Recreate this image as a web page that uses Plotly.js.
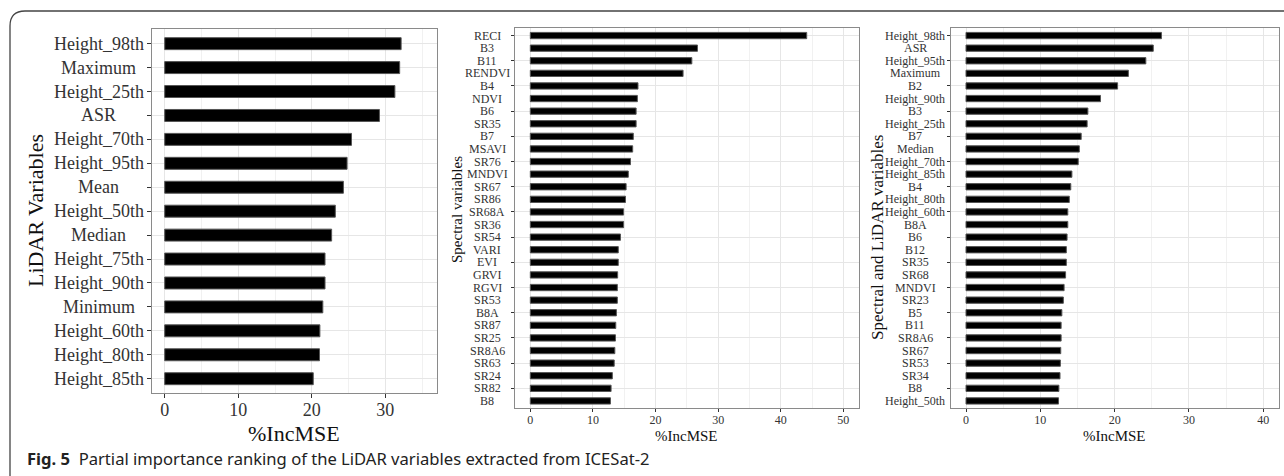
<!DOCTYPE html>
<html>
<head>
<meta charset="utf-8">
<script src="https://cdn.plot.ly/plotly-3.0.1.min.js"></script>
<style>
html,body{margin:0;padding:0;background:#fff;}
#chart{width:1284px;height:476px;}
</style>
</head>
<body>
<div id="chart"></div>
<script>
// ---- data ----
const lidarVars = ["Height_98th","Maximum","Height_25th","ASR","Height_70th","Height_95th","Mean","Height_50th","Median","Height_75th","Height_90th","Minimum","Height_60th","Height_80th","Height_85th"];
const lidarIncMSE = [32.15,31.95,31.3,29.2,25.4,24.8,24.3,23.2,22.7,21.8,21.8,21.5,21.1,21.05,20.2];

const spectralVars = ["RECI","B3","B11","RENDVI","B4","NDVI","B6","SR35","B7","MSAVI","SR76","MNDVI","SR67","SR86","SR68A","SR36","SR54","VARI","EVI","GRVI","RGVI","SR53","B8A","SR87","SR25","SR8A6","SR63","SR24","SR82","B8"];
const spectralIncMSE = [44.15,26.7,25.8,24.4,17.2,17.1,16.9,16.9,16.45,16.35,16.0,15.65,15.3,15.2,14.9,14.9,14.4,14.05,14.05,13.95,13.9,13.9,13.75,13.65,13.6,13.5,13.4,13.1,12.9,12.8];

const combinedVars = ["Height_98th","ASR","Height_95th","Maximum","B2","Height_90th","B3","Height_25th","B7","Median","Height_70th","Height_85th","B4","Height_80th","Height_60th","B8A","B6","B12","SR35","SR68","MNDVI","SR23","B5","B11","SR8A6","SR67","SR53","SR34","B8","Height_50th"];
const combinedIncMSE = [26.3,25.2,24.2,21.85,20.4,18.1,16.4,16.3,15.5,15.25,15.1,14.25,14.1,13.9,13.7,13.7,13.6,13.5,13.5,13.4,13.2,13.1,12.9,12.8,12.8,12.75,12.7,12.65,12.5,12.45];

const xTitle = "%IncMSE";
const yTitles = ["LiDAR Variables","Spectral variables","Spectral and LiDAR variables"];
const captionBold = "Fig. 5";
const captionText = "Partial importance ranking of the LiDAR variables extracted from ICESat-2";

// ---- layout helpers ----
const W = 1284, H = 476;
const px = v => v / W;
const py = v => 1 - v / H;
const SERIF = "Liberation Serif, Times New Roman, serif";

function barTrace(cats, vals, xa, ya) {
  return {
    type: "bar", orientation: "h", x: vals, y: cats,
    xaxis: xa, yaxis: ya, width: 0.5,
    marker: {color: "#000000", line: {color: "#555555", width: 1}},
    hoverinfo: "x+y", showlegend: false
  };
}

function xAxis(dom, range, tickvals, fs, anchor, tl) {
  return {
    domain: dom, range: range, anchor: anchor,
    tickmode: "array", tickvals: tickvals,
    ticks: "outside", ticklen: tl, tickcolor: "#333", tickwidth: 1,
    ticklabelstandoff: -3,
    tickfont: {family: SERIF, size: fs, color: "#333"},
    showgrid: true, gridcolor: "#e6e6e6", gridwidth: 1,
    minor: {dtick: 5, tick0: 0, showgrid: true, gridcolor: "#f1f1f1", gridwidth: 1, ticks: ""},
    zeroline: false, showline: true, mirror: true, linecolor: "#8a8a8a", linewidth: 1,
    automargin: false, fixedrange: true
  };
}

function yAxis(dom, cats, anchor, tl) {
  return {
    domain: dom, type: "category", categoryorder: "array", categoryarray: cats,
    range: [cats.length - 1 + 0.585, -0.6], anchor: anchor,
    showticklabels: false, ticks: "outside", ticklen: tl, tickcolor: "#333", tickwidth: 1,
    showgrid: true, gridcolor: "#e6e6e6", gridwidth: 1,
    zeroline: false, showline: true, mirror: true, linecolor: "#8a8a8a", linewidth: 1,
    automargin: false, fixedrange: true
  };
}

function catLabels(cats, ya, cx, fs) {
  return cats.map(c => ({
    xref: "paper", x: px(cx), yref: ya, y: c, text: c, showarrow: false,
    xanchor: "center", yanchor: "middle", borderpad: 0,
    font: {family: SERIF, size: fs, color: "#333"}
  }));
}

function title(text, cx, cy, fs, angle) {
  return {xref: "paper", yref: "paper", x: px(cx), y: py(cy), text: text, textangle: angle,
    showarrow: false, xanchor: "center", yanchor: "middle", borderpad: 0,
    font: {family: SERIF, size: fs, color: "#111"}};
}

const data = [
  barTrace(lidarVars, lidarIncMSE, "x", "y"),
  barTrace(spectralVars, spectralIncMSE, "x2", "y2"),
  barTrace(combinedVars, combinedIncMSE, "x3", "y3")
];

const annotations = []
  .concat(catLabels(lidarVars, "y", 98.5, 18))
  .concat(catLabels(spectralVars, "y2", 487.2, 12))
  .concat(catLabels(combinedVars, "y3", 915.2, 12))
  .concat([
    title(yTitles[0], 35, 211, 22, -90),
    title(yTitles[1], 457, 210, 15, -90),
    title(yTitles[2], 877, 238, 17, -90),
    title(xTitle, 294, 433, 22, 0),
    title(xTitle, 686.5, 436, 15, 0),
    title(xTitle, 1114.8, 436, 15, 0),
    {xref: "paper", yref: "paper", x: px(26), y: py(458), xanchor: "left", yanchor: "middle",
     showarrow: false, align: "left", borderpad: 0,
     text: "<b>" + captionBold + "</b>&nbsp;&nbsp;" + captionText,
     font: {family: "Noto Sans, Open Sans, sans-serif", size: 16.6, color: "#222"}}
  ]);

const layout = {
  width: W, height: H,
  margin: {l: 0, r: 0, t: 0, b: 0, pad: 0},
  paper_bgcolor: "#ffffff", plot_bgcolor: "#ffffff",
  xaxis: xAxis([px(152), px(436.5)], [-1.73, 36.96], [0, 10, 20, 30], 18, "y", 4),
  yaxis: yAxis([py(392.7), py(29.3)], lidarVars, "x", 4),
  xaxis2: xAxis([px(515.3), px(859.3)], [-2.4, 52.55], [0, 10, 20, 30, 40, 50], 12, "y2", 3),
  yaxis2: yAxis([py(408.3), py(28)], spectralVars, "x2", 3),
  xaxis3: xAxis([px(951), px(1278.7)], [-2.02, 42.08], [0, 10, 20, 30, 40], 12, "y3", 3),
  yaxis3: yAxis([py(408.3), py(28)], combinedVars, "x3", 3),
  annotations: annotations,
  shapes: [{
    type: "path", xref: "paper", yref: "paper",
    path: "M " + px(10) + "," + (py(480)) + " L " + px(10) + "," + py(26) +
          " Q " + px(10) + "," + py(11) + " " + px(25) + "," + py(11) +
          " L " + px(1290) + "," + py(11),
    line: {color: "#444444", width: 1.3}
  }],
  showlegend: false
};

Plotly.newPlot("chart", data, layout, {staticPlot: true, displayModeBar: false});
</script>
</body>
</html>
